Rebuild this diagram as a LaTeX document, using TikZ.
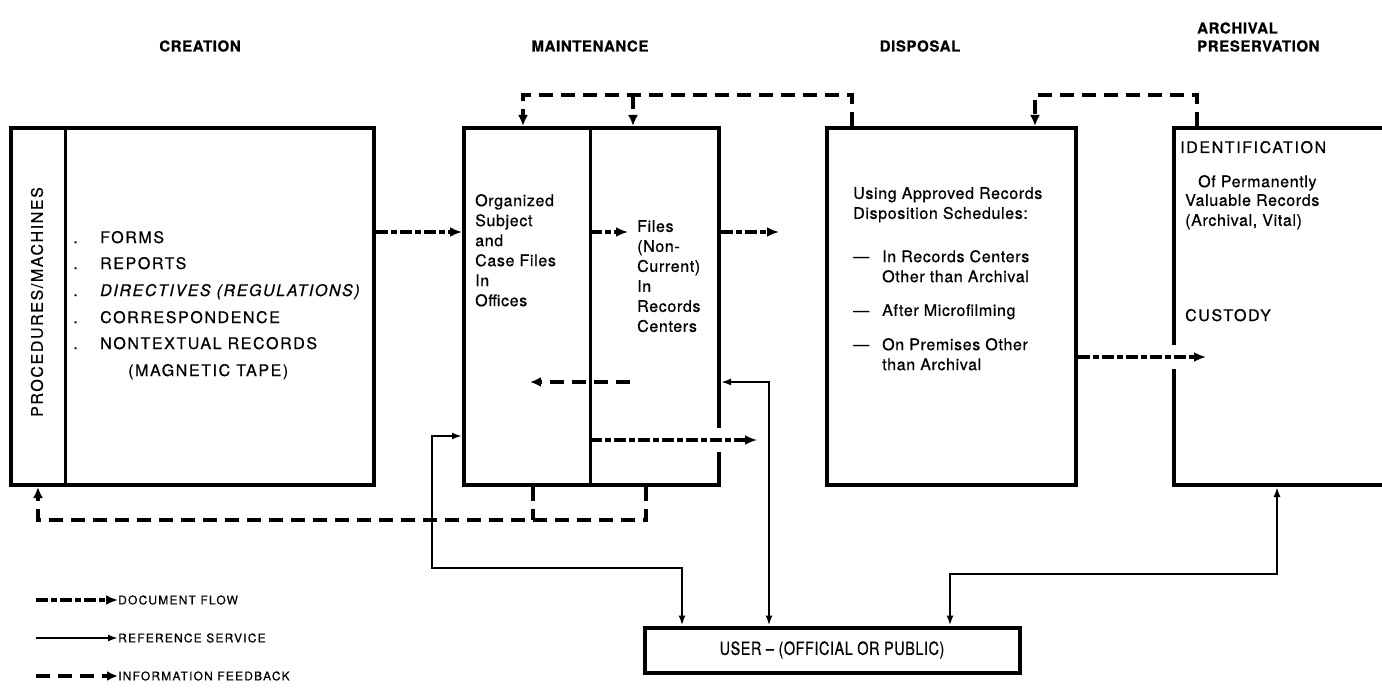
\documentclass[tikz,border=0pt]{standalone}
\usepackage{fontspec}
\setmainfont{TeX Gyre Heros}[LetterSpace=4,FakeBold=0.6]
\newfontfamily\capsfont{TeX Gyre Heros}[LetterSpace=10,FakeBold=0.6]
\usetikzlibrary{positioning,calc,arrows.meta}

\tikzset{
  box/.style={draw=black,line width=4pt,inner sep=0pt},
  flow/.style={line width=3.5pt,dash pattern=on 12pt off 3pt on 6pt off 3pt,-{Latex[length=12pt,width=10pt]}},
  feed/.style={line width=3.5pt,dash pattern=on 14pt off 8pt},
  fbtip/.style={-{Latex[length=11pt,width=10pt]}},
  ref/.style={line width=2pt,{Latex[length=10pt,width=7pt]}-{Latex[length=10pt,width=7pt]}},
  head/.style={font=\bfseries\fontsize{15}{18}\selectfont,inner sep=0pt},
  txt/.style={font=\fontsize{16}{20}\selectfont,align=left,anchor=north west,inner sep=0pt},
  caps/.style={font=\capsfont\fontsize{16}{20}\selectfont,anchor=base west,inner sep=0pt},
  lgd/.style={font=\capsfont\fontsize{12}{14}\selectfont,anchor=west,inner sep=0pt},
}

\begin{document}
\begin{tikzpicture}[x=1pt,y=-1pt]
	\path[use as bounding box,fill=white] (0,0) rectangle (1382,690);
	\node[head] (h1) at (200,46) {CREATION};
	\node[head] (h2) at (590,46) {MAINTENANCE};
	\node[head] (h3) at (920,46) {DISPOSAL};
	\node[head,align=left,anchor=west] (h4) at (1197,37) {ARCHIVAL\\PRESERVATION};

	\node[box,minimum width=363pt,minimum height=357pt,anchor=north west] (1) at (9,126) {};
	\node[box,minimum width=255pt,minimum height=357pt,anchor=north west] (2) at (462,126) {};
	\node[box,minimum width=249pt,minimum height=357pt,anchor=north west] (3) at (825,126) {};
	\node[box,minimum width=240pt,minimum height=357pt,anchor=north west] (4) at (1172,126) {};
	\node[box,minimum width=375pt,minimum height=45pt,font=\fontsize{18}{20}\selectfont] (5) at (832,650) {\scalebox{0.8}[1]{USER – (OFFICIAL OR PUBLIC)}};
	\coordinate (d1) at (65,126);
	\coordinate (d2) at (590,126);
	\draw[line width=3pt] (d1) -- (d1 |- 1.south);
	\draw[line width=3pt] (d2) -- (d2 |- 2.south);
	\draw[white,line width=8pt] (2.east |- 0,428) -- (2.east |- 0,452);
	\draw[white,line width=8pt] (4.west |- 0,345) -- (4.west |- 0,369);

	\node[caps,rotate=90,anchor=center] (p) at (37,302) {PROCEDURES/MACHINES};
	\node[caps] (b1) at (73,243) {.};
	\node[caps] (c1) at (100,243) {FORMS};
	\node[caps] (b2) at (73,269) {.};
	\node[caps] (c2) at (100,269) {REPORTS};
	\node[caps] (b3) at (73,296) {.};
	\node[caps] (c3) at (100,296) {\itshape DIRECTIVES (REGULATIONS)};
	\node[caps] (b4) at (73,323) {.};
	\node[caps] (c4) at (100,323) {CORRESPONDENCE};
	\node[caps] (b5) at (73,349) {.};
	\node[caps] (c5) at (100,349) {NONTEXTUAL RECORDS};
	\node[caps] (c6) at (128,376) {(MAGNETIC TAPE)};

	\node[txt] (t1) at (475,194) {Organized\\Subject\\and\\Case Files\\In\\Offices};
	\node[txt] (t2) at (637,220) {Files\\(Non-\\Current)\\In\\Records\\Centers};

	\node[txt] (t3) at (853,187) {Using Approved Records\\Disposition Schedules:};
	\node[txt,anchor=base west] (m1) at (853,262) {—};
	\node[txt] (t4) at (882,250) {In Records Centers\\Other than Archival};
	\node[txt,anchor=base west] (m2) at (853,316) {—};
	\node[txt] (t5) at (882,304) {After Microfilming};
	\node[txt,anchor=base west] (m3) at (853,350) {—};
	\node[txt] (t6) at (882,338) {On Premises Other\\than Archival};

	\node[caps] (a1) at (1180,153) {IDENTIFICATION};
	\node[txt] (a2) at (1198,175) {Of Permanently};
	\node[txt] (a3) at (1185,194) {Valuable Records\\(Archival, Vital)};
	\node[caps] (a4) at (1185,321) {CUSTODY};

	\draw[flow] (1.east |- 0,232) -- (2.west |- 0,232);
	\draw[flow] (d2 |- 0,232) -- ++(38,0);
	\draw[flow] (2.east |- 0,232) -- ++(58,0);
	\draw[flow] (d2 |- 0,440) -- ++(167,0);
	\draw[flow] (3.east |- 0,357) -- ++(128,0);
	\draw[feed,fbtip] ($(d2 |- 0,382)+(40,0)$) -- ++(-100,0);

	\draw[feed,fbtip] (3.north -| 852,0) -- ++(0,-31) -| (2.north -| 523,0);
	\draw[feed,fbtip] ($(2.north -| 633,0)+(0,-31)$) -- (2.north -| 633,0);
	\draw[feed,fbtip] (4.north -| 1197,0) -- ++(0,-31) -| (3.north -| 1035,0);
	\draw[feed,fbtip] (2.south -| 646,0) -- ++(0,33) -| (1.south -| 38,0);
	\draw[feed] (2.south -| 533,0) -- ++(0,33);

	\draw[ref] (2.west |- 0,436) -| ($(2.west |- 0,568)+(-30,0)$) -| (5.north -| 682,0);
	\draw[ref] (2.east |- 0,382) -| (5.north -| 769,0);
	\draw[ref] (4.south -| 1277,0) -- ++(0,87) -| (5.north -| 950,0);

	\node[lgd] (l1) at (118,600) {DOCUMENT FLOW};
	\node[lgd] (l2) at (118,638) {REFERENCE SERVICE};
	\node[lgd] (l3) at (118,676) {INFORMATION FEEDBACK};
	\draw[flow] ($(l1.west)+(-82,0)$) -- (l1.west);
	\draw[line width=2pt,-{Latex[length=10pt,width=7pt]}] ($(l2.west)+(-82,0)$) -- (l2.west);
	\draw[feed,fbtip] ($(l3.west)+(-82,0)$) -- (l3.west);
\end{tikzpicture}
\end{document}
